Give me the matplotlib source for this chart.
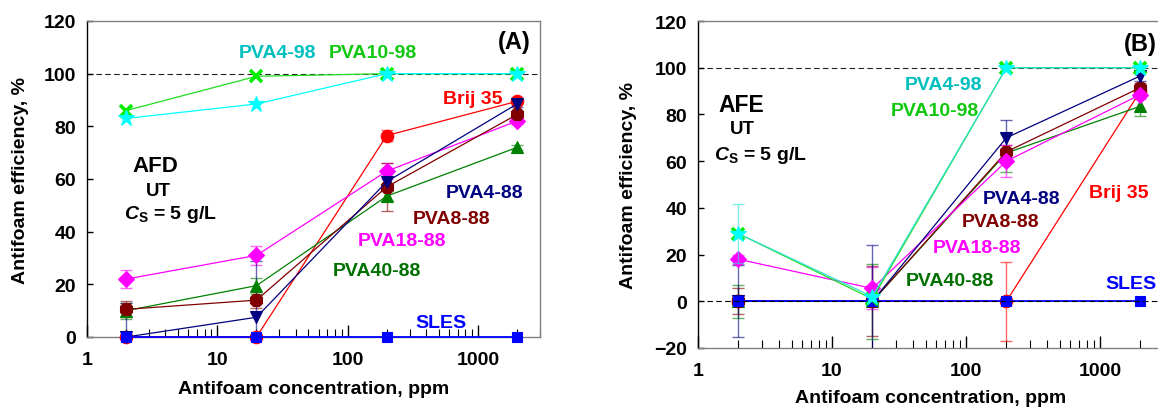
import matplotlib
matplotlib.use("Agg")
import matplotlib.pyplot as plt
from matplotlib.ticker import LogLocator, FixedLocator, NullFormatter

plt.rcParams['font.family'] = ['Liberation Sans', 'DejaVu Sans']
plt.rcParams['font.weight'] = 'bold'
plt.rcParams['mathtext.fontset'] = 'custom'
plt.rcParams['mathtext.rm'] = 'Liberation Sans:bold'
plt.rcParams['mathtext.bf'] = 'Liberation Sans:bold'
plt.rcParams['mathtext.it'] = 'Liberation Sans:bold:italic'

# Antifoam concentrations, ppm
conc = [2, 20, 200, 2000]

# Panel A: AFD, UT, Cs = 5 g/L  (efficiency %, error)
afd_pva4_98 = [83, 88.5, 100, 100]
afd_pva10_98 = [86, 99, 100, 100]
afd_brij35 = [0, 0, 76.5, 89.5]
afd_brij35_err = [0, 0, 2, 0]
afd_pva4_88 = [0, 7.5, 59, 88.5]
afd_pva4_88_err = [13, 21.5, 3, 1]
afd_pva8_88 = [10.5, 14, 57, 84.5]
afd_pva8_88_err = [3, 3, 9, 1]
afd_pva18_88 = [22, 31, 63, 82]
afd_pva18_88_err = [3.5, 3.5, 3, 1]
afd_pva40_88 = [10, 19.5, 53.5, 72]
afd_pva40_88_err = [3, 3, 2, 1]
afd_sles = [0, 0, 0, 0]

# Panel B: AFE, UT, Cs = 5 g/L
afe_pva4_98 = [29, 2, 100, 100]
afe_pva4_98_err = [12.5, 0, 0, 0]
afe_pva10_98 = [29, 1, 100, 100]
afe_brij35 = [0, 0, 0, 90]
afe_brij35_err = [0, 0, 17, 0]
afe_pva4_88 = [0, 0, 70, 96.5]
afe_pva4_88_err = [15.5, 24, 7.5, 2]
afe_pva8_88 = [0, 0, 64, 91.5]
afe_pva8_88_err = [5.5, 15, 3, 2]
afe_pva18_88 = [18, 5.5, 60, 88.5]
afe_pva18_88_err = [2, 9, 7, 2]
afe_pva40_88 = [0, 0, 63.5, 83.5]
afe_pva40_88_err = [7, 16, 8, 4]
afe_sles = [0, 0, 0, 0]

W, H = 1158, 414
fig = plt.figure(figsize=(W / 100, H / 100), dpi=100)


def px(x, y):
    return x / W, 1 - y / H


def series(ax, y, err, color, marker, ms, lw=0.9, mcolor=None, z=3):
    if err is not None:
        ax.errorbar(conc, y, yerr=err, fmt='none', ecolor=color, elinewidth=1.0,
                    capsize=4, capthick=1.0, alpha=0.6, zorder=z - 0.5)
    ax.plot(conc, y, color=color, lw=lw, marker=marker, ms=ms,
            markerfacecolor=mcolor or color, markeredgecolor=mcolor or color,
            markeredgewidth=2.6 if marker in ('x', 'X') else 0.8,
            clip_on=False, zorder=z)


def style_axes(ax, ymin):
    ax.set_xscale('log')
    ax.set_xlim(1, 3000)
    ax.set_ylim(ymin, 120)
    ax.set_yticks(range(ymin, 121, 20))
    ax.xaxis.set_major_locator(FixedLocator([1, 10, 100, 1000]))
    ax.set_xticklabels(['1', '10', '100', '1000'])
    ax.xaxis.set_minor_locator(LogLocator(base=10, subs=range(2, 10)))
    ax.xaxis.set_minor_formatter(NullFormatter())
    ax.tick_params(axis='x', which='major', direction='in', length=9, width=1,
                   labelsize=14, pad=10)
    ax.tick_params(axis='x', which='minor', direction='in', length=6, width=0.8)
    ax.tick_params(axis='y', which='major', direction='in', length=4, width=1,
                   labelsize=14, pad=8)
    for lab in ax.get_xticklabels() + ax.get_yticklabels():
        lab.set_fontweight('bold')
    ax.spines['left'].set_color('black')
    ax.spines['left'].set_linewidth(1.0)
    for s in ('top', 'right', 'bottom'):
        ax.spines[s].set_color('#808080')
        ax.spines[s].set_linewidth(1.0)
    ax.axhline(100, color='#222222', lw=0.8, ls=(0, (5, 3)), zorder=1)
    ax.set_ylabel('Antifoam efficiency, %', fontsize=14, fontweight='bold')


# ---------------- Panel A ----------------
axA = fig.add_axes([87 / W, 1 - 338 / H, (540 - 87) / W, (338 - 22) / H])
style_axes(axA, 0)
axA.yaxis.set_label_coords(-0.128, 0.5)
axA.set_xlabel('Antifoam concentration, ppm', fontsize=14, fontweight='bold',
               labelpad=9)

series(axA, afd_brij35, afd_brij35_err, '#FF0000', 'o', 9)
series(axA, afd_pva40_88, afd_pva40_88_err, '#008000', '^', 9)
series(axA, afd_pva18_88, afd_pva18_88_err, '#FF00FF', 'D', 8.5)
series(axA, afd_pva8_88, afd_pva8_88_err, '#800000', '8', 9.5)
series(axA, afd_pva4_88, afd_pva4_88_err, '#000080', 'v', 9)
series(axA, afd_sles, None, '#0000FF', 's', 7.5, lw=1.3, z=4)
series(axA, afd_pva10_98, None, '#22DD22', 'x', 8.5, mcolor='#00EE00', z=5)
series(axA, afd_pva4_98, None, '#00FFFF', '*', 12, z=6)

txtA = [
    ('PVA4-98', 278, 53, '#00BFBF', 14),
    ('PVA10-98', 373, 53, '#11C811', 14),
    ('(A)', 514, 42, 'black', 17),
    ('Brij 35', 473, 100, '#FF0000', 14),
    ('PVA4-88', 485, 193, '#000080', 14),
    ('PVA8-88', 452, 220, '#800000', 14),
    ('PVA18-88', 402, 242, '#FF00FF', 14),
    ('PVA40-88', 377, 271, '#007000', 14),
    ('SLES', 441, 323, '#0000FF', 14),
    ('AFD', 155, 167, 'black', 16),
    ('UT', 158, 192, 'black', 13.5),
    (r'$\mathit{C}_{\mathrm{S}}$ = 5 g/L', 170, 215, 'black', 14),
]

# ---------------- Panel B ----------------
axB = fig.add_axes([698 / W, 1 - 349 / H, (1164 - 698) / W, (349 - 22) / H])
style_axes(axB, -20)
axB.yaxis.set_label_coords(-0.131, 0.5)
axB.set_xlabel('Antifoam concentration, ppm', fontsize=14, fontweight='bold',
               labelpad=7)
axB.set_xlim(1, 3000)

series(axB, afe_brij35, afe_brij35_err, '#FF0000', 'o', 9)
series(axB, afe_pva40_88, afe_pva40_88_err, '#008000', '^', 9)
series(axB, afe_pva8_88, afe_pva8_88_err, '#800000', '8', 9.5)
series(axB, afe_pva18_88, afe_pva18_88_err, '#FF00FF', 'D', 8.5)
series(axB, afe_pva4_88, afe_pva4_88_err, '#000080', 'v', 9)
series(axB, afe_sles, None, '#0000FF', 's', 7.5, lw=1.3, z=4)
axB.axhline(0, color='black', lw=0.8, ls=(0, (5, 3)), zorder=4.5)
series(axB, afe_pva10_98, None, '#22DD22', 'x', 8.5, mcolor='#00EE00', z=5)
series(axB, afe_pva4_98, afe_pva4_98_err, '#30E0D0', '*', 12, mcolor='#00FFFF', z=6)

txtB = [
    ('AFE', 741, 105, 'black', 16.5),
    ('UT', 742, 130, 'black', 13.5),
    (r'$\mathit{C}_{\mathrm{S}}$ = 5 g/L', 760, 155, 'black', 14),
    ('(B)', 1140, 45, 'black', 17),
    ('PVA4-98', 944, 85, '#00BFBF', 14),
    ('PVA10-98', 935, 112, '#11C811', 14),
    ('PVA4-88', 1022, 200, '#000080', 14),
    ('Brij 35', 1119, 193, '#FF0000', 14),
    ('PVA8-88', 1001, 223, '#800000', 14),
    ('PVA18-88', 977, 249, '#FF00FF', 14),
    ('PVA40-88', 950, 281, '#007000', 14),
    ('SLES', 1131, 285, '#0000FF', 14),
]

for s, x, y, c, fs in txtA + txtB:
    fx, fy = px(x, y)
    fig.text(fx, fy, s, color=c, fontsize=fs, fontweight='bold',
             ha='center', va='center')

fig.savefig('out.png', dpi=100)
